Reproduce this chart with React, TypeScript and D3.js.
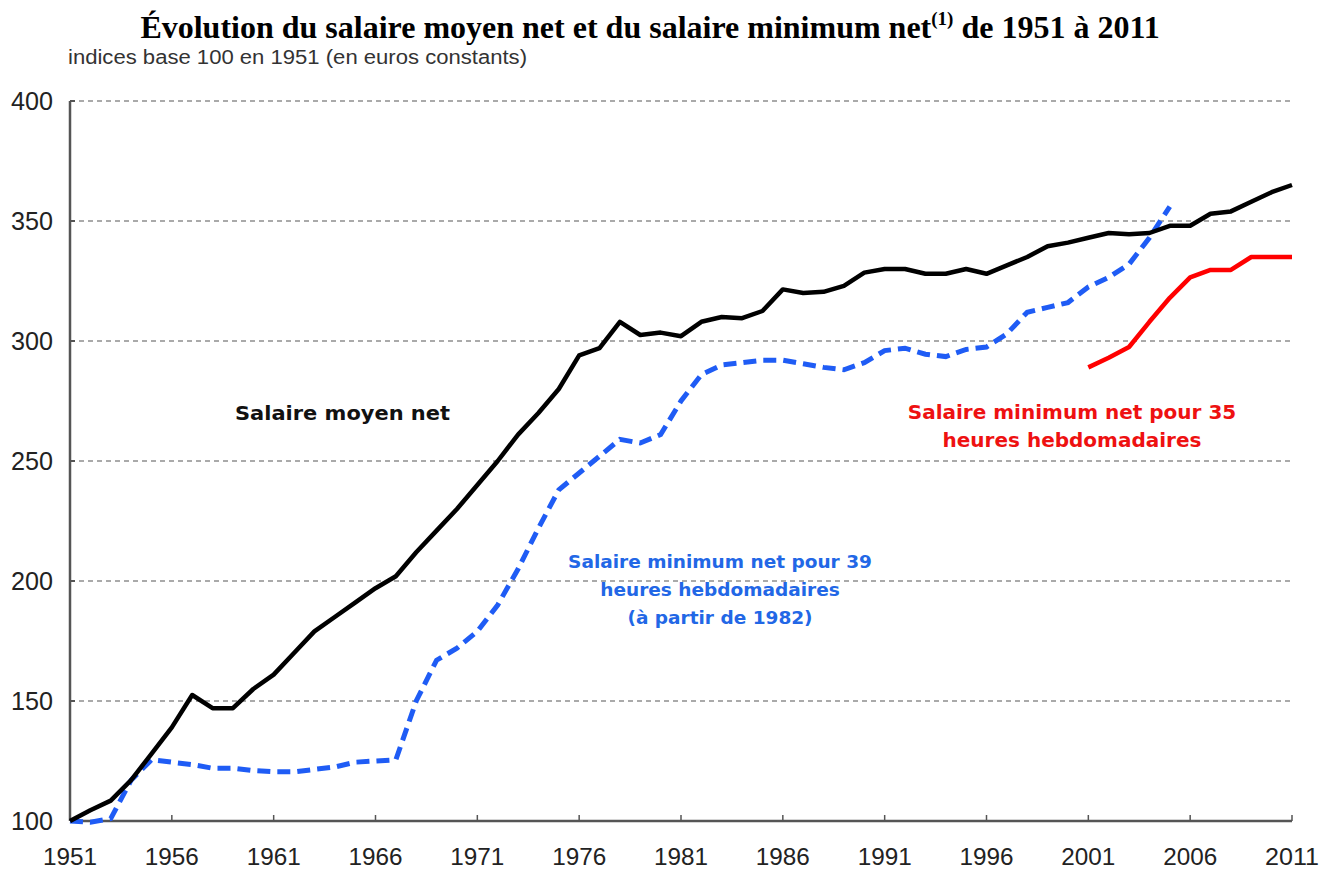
import * as d3 from "d3";

// indices base 100 en 1951 (euros constants)
const years = [
  1951, 1952, 1953, 1954, 1955, 1956, 1957, 1958, 1959, 1960,
  1961, 1962, 1963, 1964, 1965, 1966, 1967, 1968, 1969, 1970,
  1971, 1972, 1973, 1974, 1975, 1976, 1977, 1978, 1979, 1980,
  1981, 1982, 1983, 1984, 1985, 1986, 1987, 1988, 1989, 1990,
  1991, 1992, 1993, 1994, 1995, 1996, 1997, 1998, 1999, 2000,
  2001, 2002, 2003, 2004, 2005, 2006, 2007, 2008, 2009, 2010, 2011,
];

const salaireMoyen = [
  100, 104.5, 108.5, 117, 128, 139, 152.5, 147, 147, 155,
  161, 170, 179, 185, 191, 197, 202, 212, 221, 230,
  240, 250, 261, 270, 280, 294, 297, 308, 302.5, 303.5,
  302, 308, 310, 309.5, 312.5, 321.5, 320, 320.5, 323, 328.5,
  330, 330, 328, 328, 330, 328, 331.5, 335, 339.5, 341,
  343, 345, 344.5, 345, 348, 348, 353, 354, 358, 362, 365,
];

// SMIC 39 heures, 1951-2005
const smic39 = [
  100, 99.5, 101, 117, 125.5, 124.5, 123.5, 122, 122, 121,
  120.5, 120.5, 121.5, 122.5, 124.5, 125, 125.5, 150, 167, 172,
  179, 190, 205, 222, 238, 245, 252, 259, 257.5, 261,
  275, 286, 290, 291, 292, 292, 290.5, 289, 288, 291,
  296, 297, 294.5, 293.5, 296.5, 297.5, 303, 312, 314, 316,
  322.5, 326.5, 332, 343, 356,
];

// SMIC 35 heures, 2001-2011
const smic35Years = [2001, 2002, 2003, 2004, 2005, 2006, 2007, 2008, 2009, 2010, 2011];
const smic35 = [289, 293, 297.5, 308, 318, 326.5, 329.6, 329.6, 335, 335, 335];

const xTicks = [1951, 1956, 1961, 1966, 1971, 1976, 1981, 1986, 1991, 1996, 2001, 2006, 2011];
const yTicks = [100, 150, 200, 250, 300, 350, 400];

const W = 1325;
const H = 871;

export default function App() {
  const x = d3.scaleLinear().domain([1951, 2011]).range([70, 1292]);
  const y = d3.scaleLinear().domain([100, 400]).range([821, 101]);

  const line = d3
    .line<[number, number]>()
    .x((d) => x(d[0]))
    .y((d) => y(d[1]));

  const moyenPts = years.map((yr, i) => [yr, salaireMoyen[i]] as [number, number]);
  const smic39Pts = smic39.map((v, i) => [years[i], v] as [number, number]);
  const smic35Pts = smic35Years.map((yr, i) => [yr, smic35[i]] as [number, number]);

  const sans = "'DejaVu Sans', Verdana, sans-serif";
  const arial = "'Liberation Sans', Arial, sans-serif";

  return (
    <svg
      width={W}
      height={H}
      style={{ position: "absolute", left: 0, top: 0, background: "#fff" }}
    >
      {/* titre */}
      <text
        x={650}
        y={38}
        textAnchor="middle"
        fontFamily="'Liberation Serif', 'Times New Roman', serif"
        fontWeight="bold"
        fontSize={32}
        fill="#000"
      >
        Évolution du salaire moyen net et du salaire minimum net
        <tspan fontSize={19} dy={-13}>(1)</tspan>
        <tspan dy={13}> de 1951 à 2011</tspan>
      </text>
      <text
        x={68}
        y={64}
        fontFamily={arial}
        fontSize={20}
        fill="#333"
        textLength={459}
        lengthAdjust="spacingAndGlyphs"
      >
        indices base 100 en 1951 (en euros constants)
      </text>

      {/* grille */}
      {yTicks
        .filter((t) => t > 100)
        .map((t) => (
          <line
            key={t}
            x1={x(1951)}
            x2={x(2011)}
            y1={y(t)}
            y2={y(t)}
            stroke="#8f8f8f"
            strokeWidth={1.6}
            strokeDasharray="5 4"
          />
        ))}

      {/* axes */}
      <line x1={x(1951)} x2={x(1951)} y1={y(400)} y2={y(100)} stroke="#555" strokeWidth={2.5} />
      <line x1={x(1951)} x2={x(2011)} y1={y(100)} y2={y(100)} stroke="#555" strokeWidth={2.5} />
      {yTicks.map((t) => (
        <g key={t}>
          <line x1={x(1951)} x2={x(1951) + 5} y1={y(t)} y2={y(t)} stroke="#555" strokeWidth={2} />
          <text
            x={53}
            y={y(t) + 9}
            textAnchor="end"
            fontFamily={arial}
            fontSize={25}
            fill="#222"
            textLength={42}
            lengthAdjust="spacingAndGlyphs"
          >
            {t}
          </text>
        </g>
      ))}
      {xTicks.map((t) => (
        <g key={t}>
          <line x1={x(t)} x2={x(t)} y1={y(100)} y2={y(100) - 6} stroke="#555" strokeWidth={1.5} />
          <text
            x={x(t)}
            y={865}
            textAnchor="middle"
            fontFamily={arial}
            fontSize={24}
            fill="#222"
            textLength={54}
            lengthAdjust="spacingAndGlyphs"
          >
            {t}
          </text>
        </g>
      ))}

      {/* courbes */}
      <path
        d={line(smic39Pts) ?? ""}
        fill="none"
        stroke="#1f5cf5"
        strokeWidth={5}
        strokeDasharray="13 7"
      />
      <path
        d={line(moyenPts) ?? ""}
        fill="none"
        stroke="#000"
        strokeWidth={4.5}
        strokeLinejoin="round"
      />
      <path
        d={line(smic35Pts) ?? ""}
        fill="none"
        stroke="#ff0000"
        strokeWidth={4.5}
        strokeLinejoin="round"
      />

      {/* étiquettes */}
      <text
        x={235}
        y={420}
        fontFamily={sans}
        fontWeight="bold"
        fontSize={19}
        fill="#111"
        textLength={215}
        lengthAdjust="spacingAndGlyphs"
      >
        Salaire moyen net
      </text>
      <g fontFamily={sans} fontWeight="bold" fontSize={18.5} fill="#2267e6" textAnchor="middle">
        <text x={720} y={568}>Salaire minimum net pour 39</text>
        <text x={720} y={596}>heures hebdomadaires</text>
        <text x={720} y={624}>(à partir de 1982)</text>
      </g>
      <g fontFamily={sans} fontWeight="bold" fontSize={20} fill="#ee1111" textAnchor="middle">
        <text x={1072} y={419}>Salaire minimum net pour 35</text>
        <text x={1072} y={447}>heures hebdomadaires</text>
      </g>
    </svg>
  );
}
